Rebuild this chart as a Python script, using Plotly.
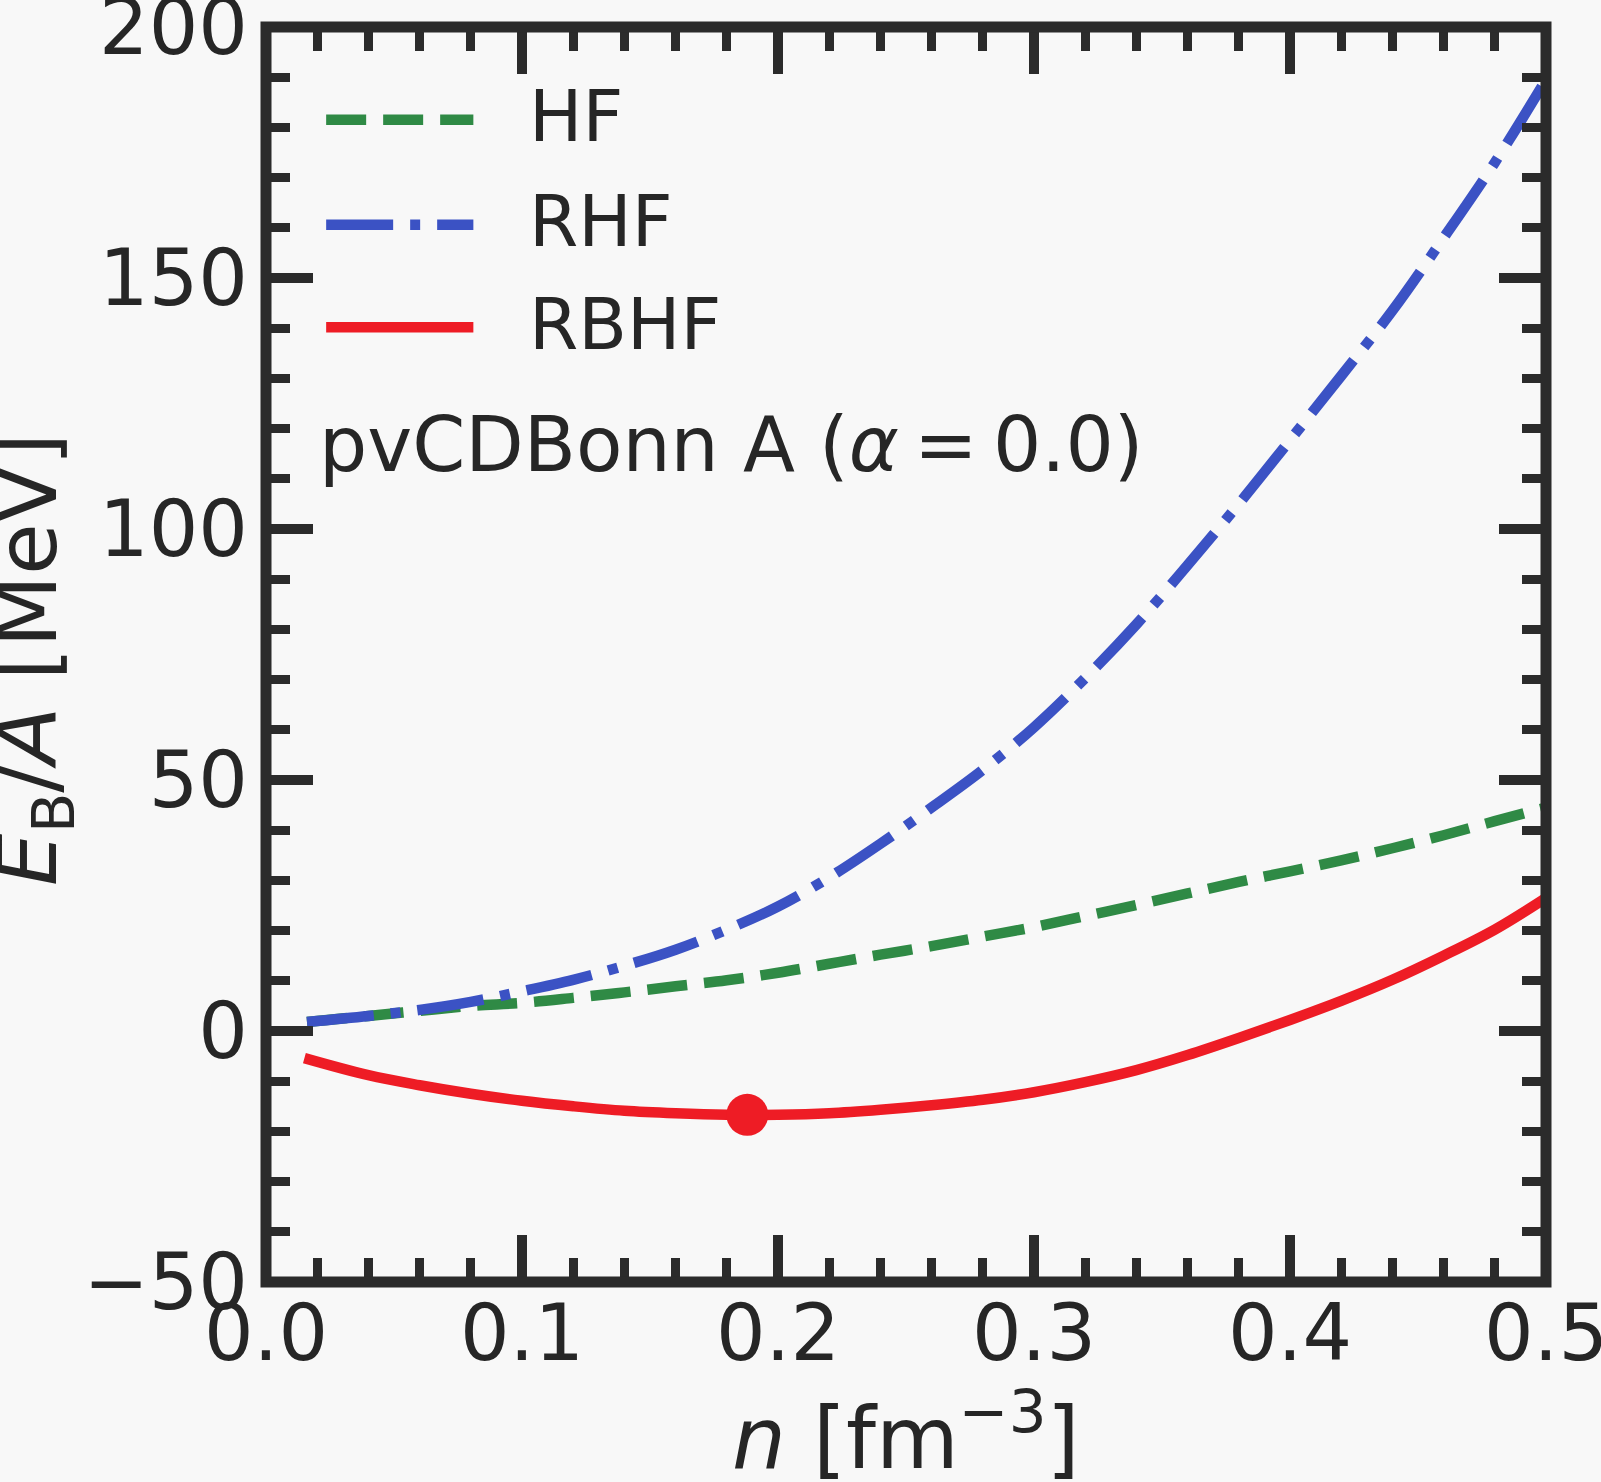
import plotly.graph_objects as go

# density grid [fm^-3] and energies per nucleon [MeV]
n_hf = [0.016, 0.04, 0.06, 0.08, 0.10, 0.12, 0.14, 0.16, 0.18, 0.20, 0.22, 0.24, 0.26,
        0.28, 0.30, 0.32, 0.34, 0.36, 0.38, 0.40, 0.42, 0.44, 0.46, 0.48, 0.50]
e_hf = [1.8, 3.0, 4.0, 5.0, 5.6, 6.6, 7.7, 8.9, 10.1, 11.6, 13.4, 15.2, 16.9,
        18.8, 20.7, 22.9, 25.1, 27.4, 29.7, 31.8, 34.0, 36.4, 39.0, 41.8, 44.5]

n_rhf = [0.016, 0.04, 0.06, 0.08, 0.10, 0.12, 0.14, 0.16, 0.18, 0.20, 0.22, 0.24, 0.26,
         0.28, 0.30, 0.32, 0.34, 0.36, 0.38, 0.40, 0.42, 0.44, 0.46, 0.48, 0.50]
e_rhf = [1.8, 3.0, 4.2, 5.8, 7.9, 10.2, 13.0, 16.2, 20.2, 24.8, 30.6, 37.3, 44.5,
         52.0, 60.5, 70.3, 81.0, 92.8, 105.0, 117.7, 130.5, 143.5, 158.0, 173.0, 189.5]

n_rbhf = [0.015, 0.04, 0.06, 0.08, 0.10, 0.12, 0.14, 0.16, 0.18, 0.20, 0.22, 0.24, 0.26,
          0.28, 0.30, 0.32, 0.34, 0.36, 0.38, 0.40, 0.42, 0.44, 0.46, 0.48, 0.50]
e_rbhf = [-5.4, -8.8, -10.8, -12.5, -13.9, -15.0, -15.9, -16.4, -16.7, -16.7, -16.4, -15.7, -14.8,
          -13.7, -12.2, -10.2, -7.8, -4.8, -1.4, 2.2, 6.0, 10.2, 15.0, 20.2, 26.5]

# saturation point
n_sat = [0.188]
e_sat = [-16.7]

x_ticks = [0.0, 0.1, 0.2, 0.3, 0.4, 0.5]
x_ticktext = ["0.0", "0.1", "0.2", "0.3", "0.4", "0.5"]
y_ticks = [-50, 0, 50, 100, 150, 200]
y_ticktext = ["\u221250", "0", "50", "100", "150", "200"]

GREEN = "#2f8a45"
BLUE = "#3b52c4"
RED = "#ee1c25"
INK = "#262626"
FRAME = "#2b2b2b"
BG = "#f8f8f8"
LW = 10.5
DASH = "40px,17px"
DASHDOT = "67px,17px,10px,17px"

fig = go.Figure()
fig.add_trace(go.Scatter(x=n_hf, y=e_hf, mode="lines", name="HF",
                         line=dict(color=GREEN, width=LW, dash=DASH, shape="spline")))
fig.add_trace(go.Scatter(x=n_rhf, y=e_rhf, mode="lines", name="RHF",
                         line=dict(color=BLUE, width=LW, dash=DASHDOT, shape="spline")))
fig.add_trace(go.Scatter(x=n_rbhf, y=e_rbhf, mode="lines", name="RBHF",
                         line=dict(color=RED, width=LW, shape="spline")))
fig.add_trace(go.Scatter(x=n_sat, y=e_sat, mode="markers", showlegend=False,
                         marker=dict(color=RED, size=42, line_width=0)))

# hand-made legend (long line samples like matplotlib)
legend_items = [("HF", GREEN, DASH, 181.5), ("RHF", BLUE, DASHDOT, 160.6), ("RBHF", RED, "solid", 140.2)]
for name, col, dash, yy in legend_items:
    fig.add_shape(type="line", xref="x", yref="y", x0=0.0235, x1=0.081, y0=yy, y1=yy,
                  line=dict(color=col, width=LW, dash=dash))
    fig.add_annotation(x=0.1018, y=yy + 0.6, xref="x", yref="y", text=name, showarrow=False,
                       xanchor="left", yanchor="middle", font=dict(size=71, color=INK))

fig.add_annotation(x=0.020, y=116.9, xref="x", yref="y",
                   text="pvCDBonn A (<i>\u03b1</i>\u2009=\u20090.0)", showarrow=False,
                   xanchor="left", yanchor="middle", font=dict(size=76, color=INK))

# axis titles
fig.add_annotation(x=0.5, y=-0.1196, xref="paper", yref="paper",
                   text="<i>n</i> [fm<sup>\u22123</sup>]", showarrow=False,
                   xanchor="center", yanchor="middle", font=dict(size=85, color=INK))
fig.add_annotation(x=-0.182, y=0.4956, xref="paper", yref="paper", textangle=-90,
                   text="<i>E</i><sub>B</sub>/<i>A</i> [MeV]", showarrow=False,
                   xanchor="center", yanchor="middle", font=dict(size=84, color=INK))

# frame centred on the plot edges, like matplotlib spines
fig.add_shape(type="rect", xref="paper", yref="paper", x0=0, x1=1, y0=0, y1=1,
              line=dict(color=FRAME, width=11), layer="above")

axis_common = dict(showline=False, mirror="ticks",
                   ticks="inside", ticklen=47, tickwidth=10, tickcolor=FRAME,
                   showgrid=False, zeroline=False, ticklabeloverflow="allow",
                   tickfont=dict(size=78, color=INK))

fig.update_xaxes(range=[0, 0.5], tickvals=x_ticks, ticktext=x_ticktext,
                 minor=dict(ticks="inside", ticklen=24, tickwidth=9, tickcolor=FRAME, dtick=0.02),
                 ticklabelstandoff=-1, **axis_common)
fig.update_yaxes(range=[-50, 200], tickvals=y_ticks, ticktext=y_ticktext,
                 minor=dict(ticks="inside", ticklen=24, tickwidth=9, tickcolor=FRAME, dtick=10),
                 ticklabelstandoff=17, **axis_common)

fig.update_layout(width=1601, height=1482, showlegend=False,
                  margin=dict(l=266, r=55, t=27, b=200, autoexpand=False),
                  paper_bgcolor=BG, plot_bgcolor=BG,
                  font=dict(family="DejaVu Sans", color=INK))
fig.write_html("out.html", config={"displayModeBar": False},
               post_script="document.body.style.margin='0px';")
